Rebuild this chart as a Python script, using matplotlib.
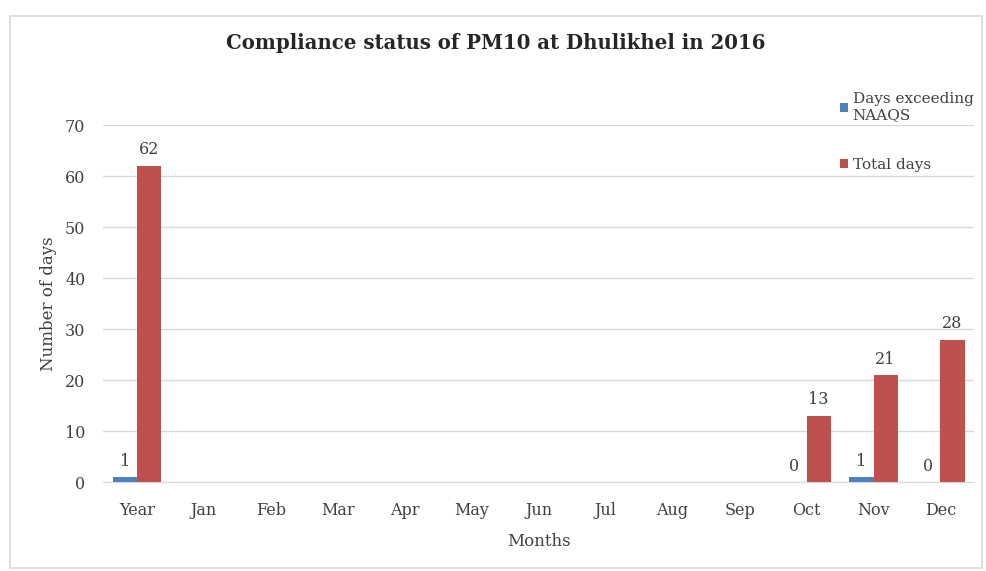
import numpy as np
import matplotlib.pyplot as plt
from matplotlib.patches import Rectangle

categories = ["Year", "Jan", "Feb", "Mar", "Apr", "May", "Jun", "Jul", "Aug", "Sep", "Oct", "Nov", "Dec"]
exceeding = [1, None, None, None, None, None, None, None, None, None, 0, 1, 0]
total = [62, None, None, None, None, None, None, None, None, None, 13, 21, 28]
yticks = [0, 10, 20, 30, 40, 50, 60, 70]

blue = "#4F81BD"
red = "#C0504D"
font = "DejaVu Serif"

fig = plt.figure(figsize=(9.87, 5.71), dpi=100)
fig.patches.append(Rectangle((0.010, 0.006), 0.985, 0.966, transform=fig.transFigure,
                             fill=False, edgecolor="#d9d9d9", linewidth=1.2))
ax = fig.add_axes([0.1048, 0.155, 0.882, 0.626])

x = np.arange(len(categories))
w = 0.36
ex = np.array([np.nan if v is None else v for v in exceeding], dtype=float)
tot = np.array([np.nan if v is None else v for v in total], dtype=float)
b1 = ax.bar(x - w / 2, ex, w, color=blue, label="Days exceeding\nNAAQS", zorder=3)
b2 = ax.bar(x + w / 2, tot, w, color=red, label="Total days", zorder=3)

for xi, v in zip(x, ex):
    if not np.isnan(v):
        ax.text(xi - w / 2, v + 1.5, f"{int(v)}", ha="center", va="bottom",
                fontsize=11.5, family=font, color="#404040")
for xi, v in zip(x, tot):
    if not np.isnan(v):
        ax.text(xi + w / 2, v + 1.5, f"{int(v)}", ha="center", va="bottom",
                fontsize=11.5, family=font, color="#404040")

ax.set_xlim(-0.5, len(categories) - 0.5)
ax.set_ylim(0, 70)
ax.set_yticks(yticks)
ax.set_xticks(x)
ax.set_xticklabels(categories, family=font, fontsize=11.5, color="#404040")
ax.set_yticklabels([str(t) for t in yticks], family=font, fontsize=11.5, color="#404040")
ax.tick_params(length=0)
ax.tick_params(axis="x", pad=14)
ax.tick_params(axis="y", pad=13)
ax.grid(axis="y", color="#d9d9d9", linewidth=1, zorder=0)
for s in ["top", "right", "left"]:
    ax.spines[s].set_visible(False)
ax.spines["bottom"].set_color("#d9d9d9")

ax.set_xlabel("Months", family=font, fontsize=12, color="#404040", labelpad=10)
ax.set_ylabel("Number of days", family=font, fontsize=12, color="#404040", labelpad=6)

fig.text(0.502, 0.925, "Compliance status of PM10 at Dhulikhel in 2016", ha="center", va="center",
         family=font, fontsize=14.2, fontweight="bold", color="#262626")

leg = ax.legend(loc="upper left", bbox_to_anchor=(0.83, 1.13), frameon=False,
                prop={"family": font, "size": 11}, handlelength=0.55, handleheight=0.55,
                handletextpad=0.3, labelspacing=2.3, labelcolor="#404040")

fig.savefig("out.png", dpi=100)
